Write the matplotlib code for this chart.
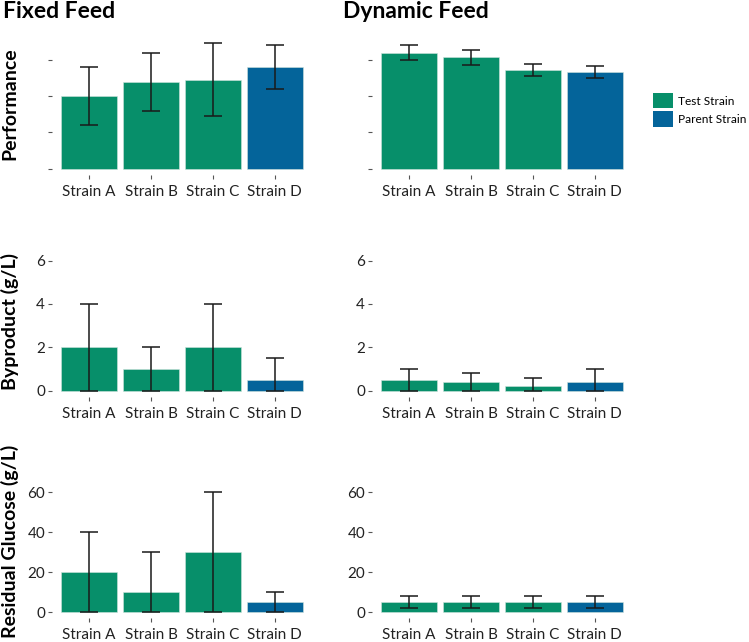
import matplotlib
matplotlib.use('Agg')
import matplotlib.pyplot as plt
import numpy as np
from matplotlib.patches import Patch

plt.rcParams['font.family'] = ['Lato', 'DejaVu Sans']

strains = ['Strain A', 'Strain B', 'Strain C', 'Strain D']
strain_type = ['Test Strain', 'Test Strain', 'Test Strain', 'Parent Strain']
feeds = ['Fixed Feed', 'Dynamic Feed']
metrics = ['Performance', 'Byproduct (g/L)', 'Residual Glucose (g/L)']

perf_fixed = [2.0, 2.4, 2.45, 2.8]
perf_fixed_err = [0.8, 0.8, 1.0, 0.6]
perf_dyn = [3.2, 3.07, 2.72, 2.67]
perf_dyn_err = [0.2, 0.2, 0.17, 0.17]

byp_fixed = [2.0, 1.0, 2.0, 0.5]
byp_fixed_err = [2.0, 1.0, 2.0, 1.0]
byp_dyn = [0.5, 0.4, 0.2, 0.4]
byp_dyn_err = [0.5, 0.4, 0.4, 0.6]

glc_fixed = [20, 10, 30, 5]
glc_fixed_err = [20, 20, 30, 5]
glc_dyn = [5, 5, 5, 5]
glc_dyn_err = [3, 3, 3, 3]

perf_ticks = [0, 1, 2, 3]
byp_ticks = [0, 2, 4, 6]
glc_ticks = [0, 20, 40, 60]

colors = {'Test Strain': '#078F6A', 'Parent Strain': '#04649A'}

W, H = 749, 642
fig = plt.figure(figsize=(W / 100, H / 100), dpi=100)

def px_axes(x0, y0, x1, y1):
    return fig.add_axes([x0 / W, 1 - y1 / H, (x1 - x0) / W, (y1 - y0) / H])

col_x = [(52, 312), (372, 632)]
rows = [
    dict(y=(38, 175), lim=(-0.17, 3.6), ticks=perf_ticks, labels=False, ylab_y=104,
         data=[(perf_fixed, perf_fixed_err), (perf_dyn, perf_dyn_err)]),
    dict(y=(254, 397), lim=(-0.3, 6.3), ticks=byp_ticks, labels=True, ylab_y=321,
         data=[(byp_fixed, byp_fixed_err), (byp_dyn, byp_dyn_err)]),
    dict(y=(486, 618), lim=(-3, 63), ticks=glc_ticks, labels=True, ylab_y=541,
         data=[(glc_fixed, glc_fixed_err), (glc_dyn, glc_dyn_err)]),
]

x = np.arange(1, len(strains) + 1)
bar_colors = [colors[t] for t in strain_type]

for r, row in enumerate(rows):
    for c in range(2):
        ax = px_axes(col_x[c][0], row['y'][0], col_x[c][1], row['y'][1])
        vals, errs = row['data'][c]
        vals = np.array(vals, dtype=float)
        errs = np.array(errs, dtype=float)
        ax.bar(x, vals, width=0.9, color=bar_colors, edgecolor='#cfe3dc', linewidth=0.4, zorder=2)
        lower = vals - np.maximum(vals - errs, 0)
        upper = errs
        ax.errorbar(x, vals, yerr=[lower, upper], fmt='none', ecolor='#1a1a1a',
                    elinewidth=1.1, capsize=6.5, capthick=1.1, zorder=3)
        ax.set_xlim(0.4, 4.6)
        ax.set_ylim(*row['lim'])
        ax.set_yticks(row['ticks'])
        if row['labels']:
            ax.set_yticklabels([str(t) for t in row['ticks']])
        else:
            ax.set_yticklabels([''] * len(row['ticks']))
        ax.set_xticks(x)
        ax.set_xticklabels(strains)
        for s in ax.spines.values():
            s.set_visible(False)
        ax.tick_params(axis='both', length=3, width=0.8, color='#555555',
                       labelsize=11, labelcolor='#222222')
        ax.tick_params(axis='x', pad=4)
        ax.tick_params(axis='y', pad=2)
        ax.set_facecolor('white')
    fig.text(10 / W, 1 - row['ylab_y'] / H, metrics[r], rotation=90, fontsize=14,
             fontweight='bold', ha='center', va='center')

fig.text(3 / W, 1 - 11 / H, feeds[0], fontsize=16.5, fontweight='bold', va='center', ha='left')
fig.text(343 / W, 1 - 11 / H, feeds[1], fontsize=16.5, fontweight='bold', va='center', ha='left')

handles = [Patch(facecolor=colors['Test Strain'], label='Test Strain'),
           Patch(facecolor=colors['Parent Strain'], label='Parent Strain')]
fig.legend(handles=handles, loc='upper left', bbox_to_anchor=(653 / W, 1 - 93 / H),
           frameon=False, fontsize=8.6, handlelength=1.65, handleheight=1.6,
           labelspacing=0.24, handletextpad=0.45, borderaxespad=0, borderpad=0)

fig.savefig('out.png', dpi=100, facecolor='white')
